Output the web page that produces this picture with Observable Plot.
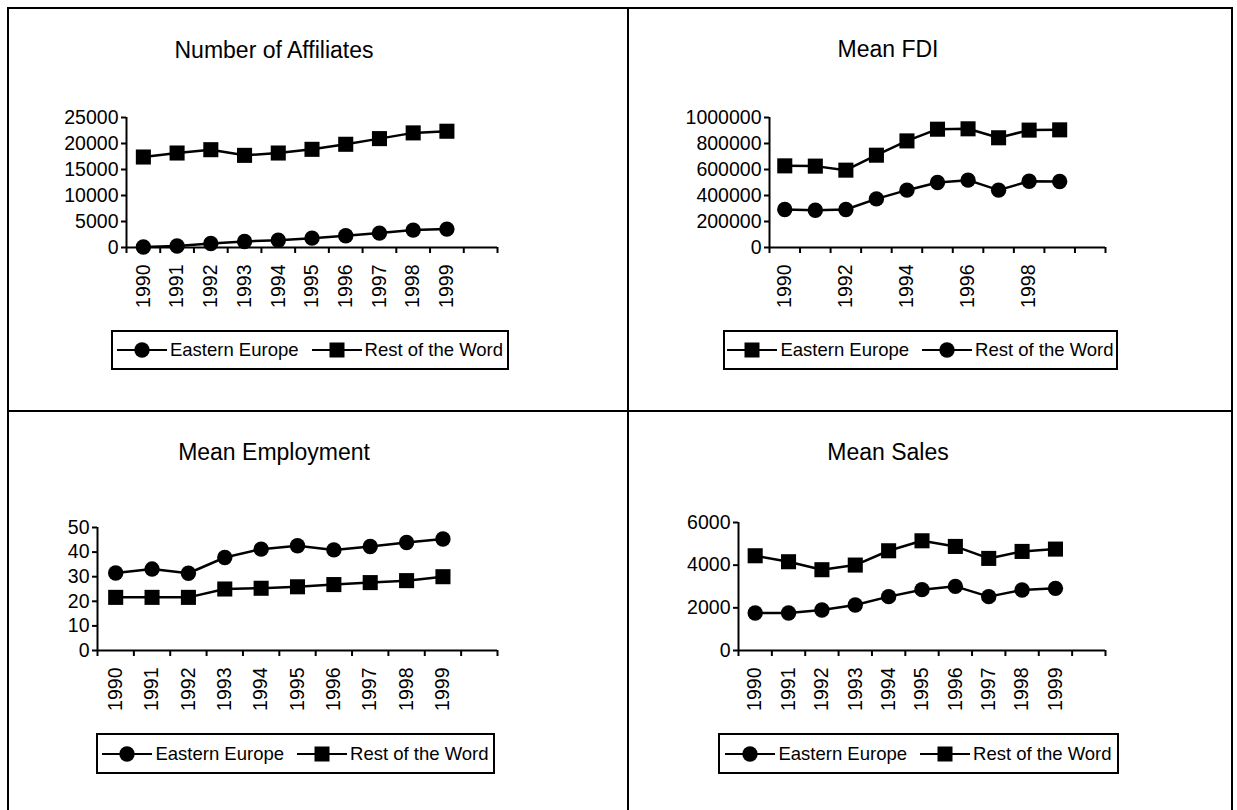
<!DOCTYPE html>
<html>
<head>
<meta charset="utf-8">
<script src="https://cdn.jsdelivr.net/npm/d3@7"></script>
<script src="https://cdn.jsdelivr.net/npm/@observablehq/plot@0.6"></script>
<style>
  html, body { margin: 0; padding: 0; background: #fff; }
  #page { position: relative; width: 1237px; height: 810px; overflow: hidden; background: #fff;
          font-family: "Liberation Sans", Arial, sans-serif; color: #000; }
  .rule { position: absolute; background: #000; }
  .title { position: absolute; font-size: 23px; white-space: nowrap; transform: translate(-50%, -50%); }
  .chart { position: absolute; }
  .legend { position: absolute; box-sizing: border-box; border: 2px solid #000; display: flex;
            align-items: center; justify-content: center; gap: 13px; font-size: 18.5px; white-space: nowrap; }
  .legend .item { display: flex; align-items: center; }
  .legend svg { display: block; margin-right: 3px; }
</style>
</head>
<body>
<div id="page"></div>
<script>
// ---------- data ----------
const years = [1990, 1991, 1992, 1993, 1994, 1995, 1996, 1997, 1998, 1999];
const seriesNames = ["Eastern Europe", "Rest of the Word"];

const titles = ["Number of Affiliates", "Mean FDI", "Mean Employment", "Mean Sales"];

const affiliatesEE = [100, 300, 770, 1160, 1400, 1800, 2250, 2770, 3350, 3540];
const affiliatesRW = [17400, 18170, 18810, 17720, 18170, 18880, 19850, 20940, 22040, 22360];

const fdiEE = [628000, 626000, 595000, 710000, 820000, 910000, 913000, 844000, 903000, 905000];
const fdiRW = [292000, 287000, 292000, 374000, 441000, 500000, 518000, 441000, 510000, 508000];

const employmentEE = [31.5, 33.1, 31.4, 37.8, 41.2, 42.6, 40.9, 42.3, 43.9, 45.3];
const employmentRW = [21.6, 21.6, 21.6, 25.0, 25.3, 25.9, 26.8, 27.6, 28.4, 30.0];

const salesEE = [1761, 1761, 1901, 2135, 2525, 2852, 3008, 2525, 2836, 2914];
const salesRW = [4441, 4161, 3787, 4005, 4675, 5143, 4878, 4317, 4644, 4753];

const yTicksAffiliates = [0, 5000, 10000, 15000, 20000, 25000];
const yTicksFdi = [0, 200000, 400000, 600000, 800000, 1000000];
const yTicksEmployment = [0, 10, 20, 30, 40, 50];
const yTicksSales = [0, 2000, 4000, 6000];

const xLabelsAll = [1990, 1991, 1992, 1993, 1994, 1995, 1996, 1997, 1998, 1999];
const xLabelsEveryOther = [1990, 1992, 1994, 1996, 1998];

// ---------- layout ----------
const page = document.getElementById("page");
function rule(x, y, w, h) {
  const d = document.createElement("div");
  d.className = "rule";
  Object.assign(d.style, {left: x + "px", top: y + "px", width: w + "px", height: h + "px"});
  page.appendChild(d);
}
// table borders
rule(7, 7, 1226, 2);      // top
rule(7, 7, 2, 803);       // left
rule(1231, 7, 2, 803);    // right
rule(627, 7, 2, 803);     // middle vertical
rule(7, 410, 1226, 2);    // middle horizontal

const panels = [
  {title: titles[0], ee: affiliatesEE, rw: affiliatesRW, eeSym: "circle", rwSym: "square",
   yTicks: yTicksAffiliates, xLabels: xLabelsAll,
   x0: 126, x1: 497, yTop: 117, yBot: 247, tx: 274, ty: 50, lg: [111, 330, 398, 40]},
  {title: titles[1], ee: fdiEE, rw: fdiRW, eeSym: "square", rwSym: "circle",
   yTicks: yTicksFdi, xLabels: xLabelsEveryOther,
   x0: 769, x1: 1105, yTop: 117, yBot: 247, tx: 888, ty: 49, lg: [723, 330, 395, 40]},
  {title: titles[2], ee: employmentEE, rw: employmentRW, eeSym: "circle", rwSym: "square",
   yTicks: yTicksEmployment, xLabels: xLabelsAll,
   x0: 97, x1: 497, yTop: 527, yBot: 650, tx: 274, ty: 452, lg: [96, 733, 399, 41]},
  {title: titles[3], ee: salesEE, rw: salesRW, eeSym: "circle", rwSym: "square",
   yTicks: yTicksSales, xLabels: xLabelsAll,
   x0: 738, x1: 1105, yTop: 522, yBot: 650, tx: 888, ty: 452, lg: [718, 733, 401, 41]}
];

const ML = 115, MR = 10, MT = 15, MB = 75;
const R_CIRCLE = 7.7, R_SQUARE = 8.5;
const TICK_FONT = 19.5;

function markerSvg(sym) {
  const marker = sym === "circle"
    ? `<circle cx="25" cy="10" r="${R_CIRCLE}" fill="#000"/>`
    : `<rect x="${25 - 7.5}" y="${10 - 7.5}" width="15" height="15" fill="#000"/>`;
  return `<svg width="50" height="20"><line x1="0" y1="10" x2="50" y2="10" stroke="#000" stroke-width="2"/>${marker}</svg>`;
}

for (const p of panels) {
  // title
  const t = document.createElement("div");
  t.className = "title";
  t.textContent = p.title;
  t.style.left = p.tx + "px";
  t.style.top = p.ty + "px";
  page.appendChild(t);

  const data = [];
  years.forEach((yr, i) => {
    data.push({year: yr, value: p.ee[i], series: seriesNames[0], sym: p.eeSym});
    data.push({year: yr, value: p.rw[i], series: seriesNames[1], sym: p.rwSym});
  });
  const yMax = p.yTicks[p.yTicks.length - 1];
  const plotW = p.x1 - p.x0, plotH = p.yBot - p.yTop;
  const boundaries = d3.range(1989.5, 2001, 1);

  const chart = Plot.plot({
    width: ML + plotW + MR,
    height: MT + plotH + MB,
    marginLeft: ML, marginRight: MR, marginTop: MT, marginBottom: MB,
    style: {fontFamily: '"Liberation Sans", Arial, sans-serif', fontSize: TICK_FONT + "px", color: "#000", background: "transparent", overflow: "visible"},
    x: {type: "linear", domain: [1989.5, 2000.5], axis: null},
    y: {type: "linear", domain: [0, yMax], axis: null},
    marks: [
      Plot.axisY({ticks: p.yTicks, tickSize: 5, tickPadding: 3, tickFormat: d => String(d), label: null,
                  fontSize: TICK_FONT, strokeWidth: 2}),
      Plot.axisX({ticks: boundaries, tickSize: 6, tickFormat: () => "", label: null, strokeWidth: 2}),
      Plot.axisX({ticks: p.xLabels, tickSize: 0, tickPadding: 17, tickRotate: -90, tickFormat: d => String(d),
                  label: null, fontSize: TICK_FONT}),
      Plot.ruleX([1989.5], {stroke: "#000", strokeWidth: 2}),
      Plot.ruleY([0], {stroke: "#000", strokeWidth: 2}),
      Plot.line(data, {x: "year", y: "value", z: "series", stroke: "#000", strokeWidth: 2.5}),
      Plot.dot(data.filter(d => d.sym === "circle"), {x: "year", y: "value", symbol: "circle", r: R_CIRCLE, fill: "#000", stroke: "none"}),
      Plot.dot(data.filter(d => d.sym === "square"), {x: "year", y: "value", symbol: "square", r: R_SQUARE, fill: "#000", stroke: "none"})
    ]
  });
  chart.classList.add("chart");
  chart.style.left = (p.x0 - ML) + "px";
  chart.style.top = (p.yTop - MT) + "px";
  page.appendChild(chart);

  // legend
  const lg = document.createElement("div");
  lg.className = "legend";
  Object.assign(lg.style, {left: p.lg[0] + "px", top: p.lg[1] + "px", width: p.lg[2] + "px", height: p.lg[3] + "px"});
  lg.innerHTML = `<div class="item">${markerSvg(p.eeSym)}<span>${seriesNames[0]}</span></div>` +
                 `<div class="item">${markerSvg(p.rwSym)}<span>${seriesNames[1]}</span></div>`;
  page.appendChild(lg);
}
</script>
</body>
</html>
